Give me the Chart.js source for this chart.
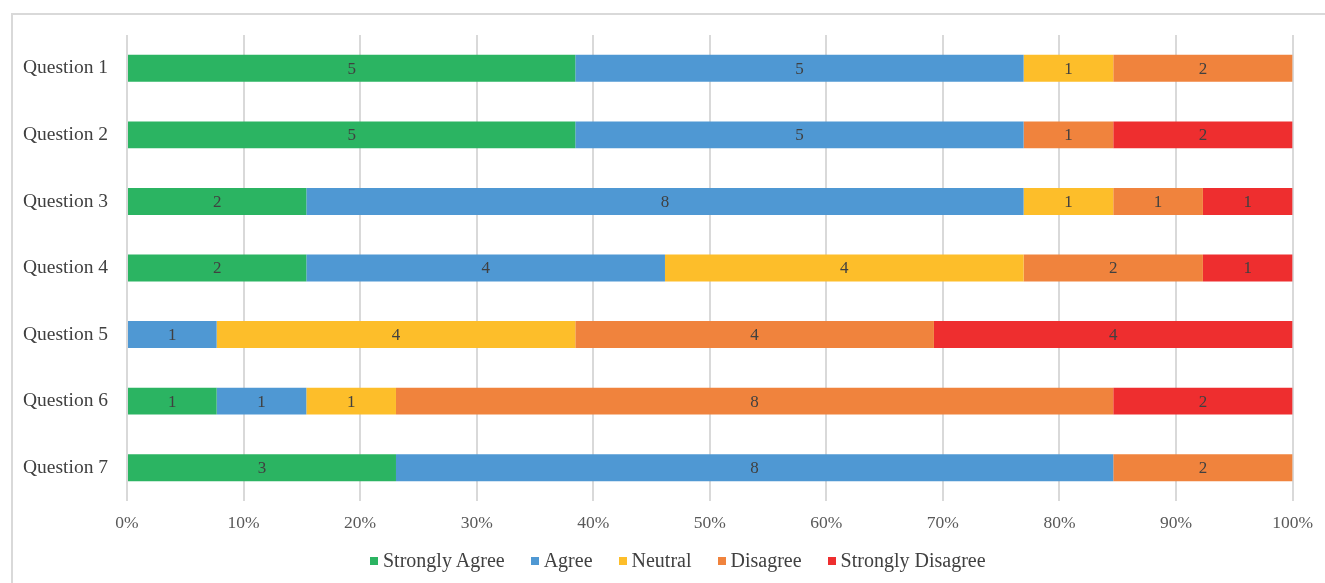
<!DOCTYPE html>
<html>
<head>
<meta charset="utf-8">
<script src="https://cdn.jsdelivr.net/npm/chart.js@4"></script>
<style>
  html, body { margin: 0; padding: 0; background: #fff; overflow: hidden; }
  #wrap { position: relative; width: 1325px; height: 583px; }
  #frame { position: absolute; left: 11px; top: 13px; width: 1400px; height: 700px;
           border: 2px solid #d9d9d9; box-sizing: border-box; }
  canvas { position: absolute; left: 0; top: 0; }
  #legend { position: absolute; left: 370px; top: 549px; display: flex; gap: 26px;
            font-family: "Liberation Serif", "Times New Roman", serif; font-size: 20px; color: #404040; }
  #legend span.item { display: flex; align-items: center; }
  #legend i { display: inline-block; width: 8px; height: 8px; margin-right: 5px; }
</style>
</head>
<body>
<div id="wrap">
  <div id="frame"></div>
  <canvas id="chart" width="1325" height="583"></canvas>
  <div id="legend"></div>
</div>
<script>
const questions = ['Question 1', 'Question 2', 'Question 3', 'Question 4', 'Question 5', 'Question 6', 'Question 7'];
const seriesNames = ['Strongly Agree', 'Agree', 'Neutral', 'Disagree', 'Strongly Disagree'];
const seriesColors = ['#2bb462', '#4f98d3', '#fdbe2a', '#f0833d', '#ee2e2f'];

const stronglyAgree    = [5, 5, 2, 2, 0, 1, 3];
const agree            = [5, 5, 8, 4, 1, 1, 8];
const neutral          = [1, 0, 1, 4, 4, 1, 0];
const disagree         = [2, 1, 1, 2, 4, 8, 2];
const stronglyDisagree = [0, 2, 1, 1, 4, 2, 0];

const xTicks = [0, 10, 20, 30, 40, 50, 60, 70, 80, 90, 100];

const counts = [stronglyAgree, agree, neutral, disagree, stronglyDisagree];
const totals = questions.map((q, i) => counts.reduce((s, arr) => s + arr[i], 0));

const serif = '"Liberation Serif", "Times New Roman", serif';

// draws the count in the middle of each segment
const segmentLabels = {
  id: 'segmentLabels',
  afterDatasetsDraw(chart) {
    const ctx = chart.ctx;
    ctx.save();
    ctx.font = '17px ' + serif;
    ctx.fillStyle = '#404040';
    ctx.textAlign = 'center';
    ctx.textBaseline = 'middle';
    chart.data.datasets.forEach((ds, di) => {
      chart.getDatasetMeta(di).data.forEach((bar, i) => {
        const n = ds.counts[i];
        if (!n) return;
        ctx.fillText(String(n), (bar.x + bar.base) / 2, bar.y + 1);
      });
    });
    ctx.restore();
  }
};

const chart = new Chart(document.getElementById('chart'), {
  type: 'bar',
  data: {
    labels: questions,
    datasets: counts.map((arr, k) => ({
      label: seriesNames[k],
      counts: arr,
      data: arr.map((v, i) => v / totals[i] * 100),
      backgroundColor: seriesColors[k],
      borderWidth: 0,
      barPercentage: 0.81,
      categoryPercentage: 0.5
    }))
  },
  options: {
    indexAxis: 'y',
    responsive: false,
    animation: false,
    layout: { padding: { top: 35, right: 31, left: 0, bottom: 42 } },
    plugins: {
      legend: { display: false },
      tooltip: { enabled: false }
    },
    scales: {
      x: {
        stacked: true,
        min: 0,
        max: 100,
        afterBuildTicks: scale => { scale.ticks = xTicks.map(v => ({ value: v })); },
        afterFit: scale => { scale.height = 40; },
        grid: { color: '#d9d9d9', lineWidth: 2, drawTicks: false },
        border: { display: false },
        ticks: {
          padding: 12,
          color: '#595959',
          font: { family: serif, size: 17.5 },
          callback: v => v + '%'
        }
      },
      y: {
        stacked: true,
        afterFit: scale => { scale.width = 127; },
        grid: { display: false },
        border: { display: false },
        ticks: {
          padding: 11,
          color: '#404040',
          font: { family: serif, size: 19.5 }
        }
      }
    }
  },
  plugins: [segmentLabels]
});

const legend = document.getElementById('legend');
seriesNames.forEach((name, k) => {
  const item = document.createElement('span');
  item.className = 'item';
  item.innerHTML = '<i style="background:' + seriesColors[k] + '"></i>' + name;
  legend.appendChild(item);
});
</script>
</body>
</html>
